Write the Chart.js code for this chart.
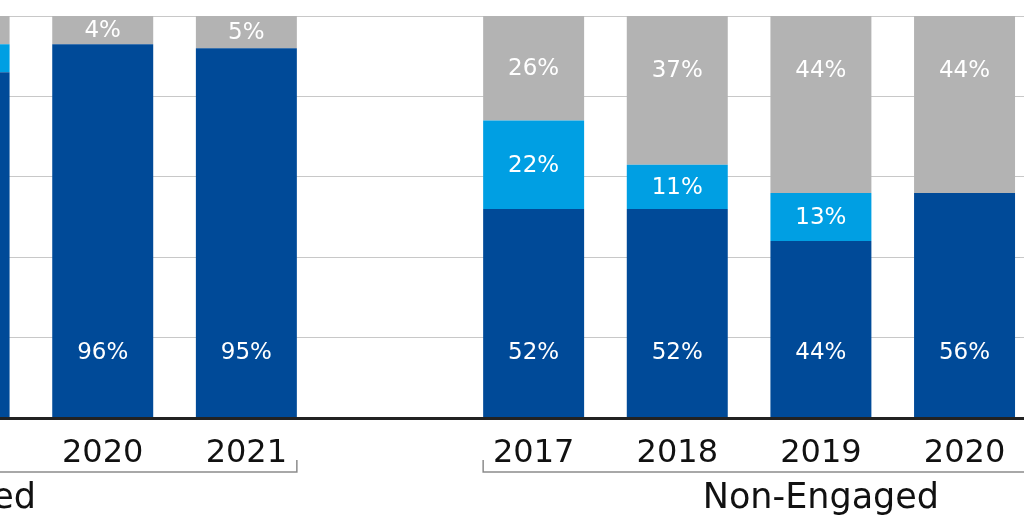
<!DOCTYPE html>
<html>
<head>
<meta charset="utf-8">
<script src="https://cdn.jsdelivr.net/npm/chart.js@4/dist/chart.umd.min.js"></script>
<style>
  html, body { margin: 0; padding: 0; background: #fff; overflow: hidden; }
  #wrap { position: absolute; left: -400px; top: 0; width: 1580px; height: 520px; }
</style>
</head>
<body>
<div id="wrap"><canvas id="bars"></canvas></div>
<script>
// years on the axis, blank slot separates the two groups
const years = ['2017', '2018', '2019', '2020', '2021', '', '2017', '2018', '2019', '2020', '2021'];
const groups = ['Engaged', 'Non-Engaged'];
const groupSpan = [[0, 4], [6, 10]];

// bar heights as drawn (null = outside the visible crop)
const darkVals  = [null, null, 86, 93, 92, null, 52, 52, 44, 56, null];
const lightVals = [null, null, 7, 0, 0, null, 22, 11, 12, 0, null];
const grayVals  = [null, null, 7, 7, 8, null, 26, 37, 44, 44, null];

// printed labels
const darkText  = ['', '', '', '96%', '95%', '', '52%', '52%', '44%', '56%', ''];
const lightText = ['', '', '', '', '', '', '22%', '11%', '13%', '', ''];
const grayText  = ['', '', '', '4%', '5%', '', '26%', '37%', '44%', '44%', ''];

const barPct = 0.703;
const font = '"DejaVu Sans", sans-serif';

const labelsPlugin = {
    id: 'labels',
    afterDatasetsDraw(chart) {
        const ctx = chart.ctx;
        ctx.save();
        ctx.fillStyle = '#fff';
        ctx.font = '23px ' + font;
        ctx.textAlign = 'center';
        ctx.textBaseline = 'middle';
        const texts = [darkText, lightText, grayText];
        texts.forEach((arr, di) => {
            const meta = chart.getDatasetMeta(di);
            arr.forEach((t, i) => {
                if (!t) return;
                const el = meta.data[i];
                let y;
                if (di === 0) y = el.base - 64;
                else if (di === 1) y = (el.y + el.base) / 2 + 1;
                else y = Math.min((el.y + el.base) / 2 + 1, el.y + 55);
                ctx.fillText(t, el.x, y);
            });
        });
        ctx.restore();
    },
    afterDraw(chart) {
        const ctx = chart.ctx;
        const xs = chart.scales.x;
        const half = (xs.getPixelForValue(1) - xs.getPixelForValue(0)) * barPct / 2;
        ctx.save();
        ctx.strokeStyle = '#8c8c8c';
        ctx.lineWidth = 1.5;
        ctx.fillStyle = '#111';
        ctx.font = '35px ' + font;
        ctx.textAlign = 'center';
        ctx.textBaseline = 'middle';
        groupSpan.forEach((g, k) => {
            const x0 = xs.getPixelForValue(g[0]) - half;
            const x1 = xs.getPixelForValue(g[1]) + half;
            ctx.beginPath();
            ctx.moveTo(x0, 460);
            ctx.lineTo(x0, 472);
            ctx.lineTo(x1, 472);
            ctx.lineTo(x1, 460);
            ctx.stroke();
            ctx.fillText(groups[k], (x0 + x1) / 2, 499);
        });
        ctx.restore();
    }
};

new Chart(document.getElementById('bars'), {
    type: 'bar',
    data: {
        labels: years,
        datasets: [
            { label: 'dark', data: darkVals, backgroundColor: '#004A98' },
            { label: 'light', data: lightVals, backgroundColor: '#009FE3' },
            { label: 'gray', data: grayVals, backgroundColor: '#B3B3B3' }
        ]
    },
    options: {
        responsive: true,
        maintainAspectRatio: false,
        animation: false,
        layout: { padding: { top: 16, left: 0, right: 0, bottom: 0 } },
        datasets: { bar: { categoryPercentage: 1, barPercentage: barPct, borderWidth: 0 } },
        plugins: { legend: { display: false }, tooltip: { enabled: false } },
        scales: {
            x: {
                stacked: true,
                grid: { display: false },
                border: { display: true, color: '#222', width: 3, z: 1 },
                ticks: { color: '#111', font: { family: font, size: 32 }, padding: 8, maxRotation: 0, autoSkip: false },
                afterFit: s => { s.height = 102; }
            },
            y: {
                stacked: true,
                min: 0,
                max: 100,
                ticks: { display: false, stepSize: 20 },
                grid: { color: '#c8c8c8', drawTicks: false },
                border: { display: false },
                afterFit: s => { s.width = 0; }
            }
        }
    },
    plugins: [labelsPlugin]
});
</script>
</body>
</html>
